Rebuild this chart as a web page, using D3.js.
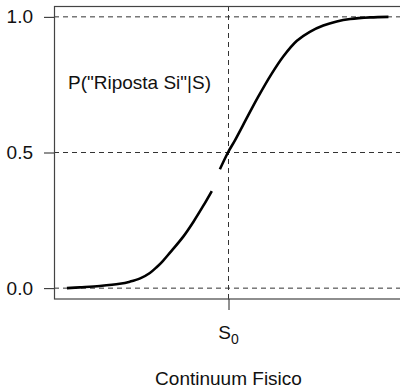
<!DOCTYPE html>
<html>
<head>
<meta charset="utf-8">
<script src="https://cdn.jsdelivr.net/npm/d3@7"></script>
<style>
  body { margin: 0; background: #fff; }
  svg { display: block; font-family: "Liberation Sans", Arial, sans-serif; }
</style>
</head>
<body>
<svg width="400" height="392"></svg>
<script>
// punti (stimolo relativo a S0, probabilita' di risposta "Si")
var stimolo = [-3.0, -2.76, -2.39, -2.02, -1.83, -1.64, -1.46, -1.33, -1.22, -1.09, -0.84, -0.65, -0.47, -0.31,
               -0.23,
               -0.16, -0.01, 0.12, 0.36, 0.55, 0.80, 1.02, 1.27, 1.51, 1.76, 2.01, 2.26, 2.63, 2.97];
var probSi = [0.000, 0.003, 0.008, 0.016, 0.024, 0.036, 0.056, 0.078, 0.100, 0.130, 0.190, 0.245, 0.303, 0.358,
              null,
              0.438, 0.500, 0.545, 0.635, 0.705, 0.790, 0.855, 0.912, 0.945, 0.968, 0.983, 0.992, 0.998, 1.000];
var yTicks = [0, 0.5, 1];
var rifLinee = [0, 0.5, 1];
var xTicks = [0];

var svg = d3.select("svg"),
  margin = { top: 6, right: -3, bottom: 93, left: 54 },
  width = +svg.attr("width") - margin.left - margin.right,
  height = +svg.attr("height") - margin.top - margin.bottom;

var data = stimolo.map(function(d, i) { return { x: d, y: probSi[i] }; });

// come in R: 4% in piu' da ogni lato
var x = d3.scaleLinear().domain([-3.24, 3.24]).range([0, width]),
  y = d3.scaleLinear().domain([-0.04, 1.04]).range([height, 0]);

var g = svg.append("g").attr("transform", "translate(" + margin.left + "," + margin.top + ")");

// linee tratteggiate di riferimento
g.selectAll(".hline").data(rifLinee).enter().append("line")
  .attr("x1", 0).attr("x2", width)
  .attr("y1", function(d) { return y(d); }).attr("y2", function(d) { return y(d); })
  .attr("stroke", "#333").attr("stroke-width", 1).attr("stroke-dasharray", "5,4");

g.selectAll(".vline").data(xTicks).enter().append("line")
  .attr("x1", function(d) { return x(d); }).attr("x2", function(d) { return x(d); })
  .attr("y1", 0).attr("y2", height)
  .attr("stroke", "#333").attr("stroke-width", 1).attr("stroke-dasharray", "5,4");

// cornice (il lato destro cade fuori)
g.append("rect").attr("x", 0.5).attr("y", 0.5).attr("width", width).attr("height", height - 0.5)
  .attr("fill", "none").attr("stroke", "#444").attr("stroke-width", 1.2);

// curva
var line = d3.line()
  .defined(function(d) { return d.y !== null; })
  .x(function(d) { return x(d.x); })
  .y(function(d) { return y(d.y); })
  .curve(d3.curveCatmullRom);

g.append("path").datum(data)
  .attr("fill", "none").attr("stroke", "#000").attr("stroke-width", 2.6)
  .attr("stroke-linejoin", "round").attr("d", line);

// asse y
var ay = g.append("g").call(d3.axisLeft(y).tickValues(yTicks).tickFormat(d3.format(".1f")).tickSize(10).tickPadding(11));
ay.select(".domain").remove();
ay.selectAll("line").attr("stroke", "#222");
ay.selectAll("text").attr("font-size", "19px").attr("font-family", "Liberation Sans, Arial, sans-serif").attr("fill", "#111");

// asse x
var ax = g.append("g").attr("transform", "translate(0," + height + ")")
  .call(d3.axisBottom(x).tickValues(xTicks).tickFormat("").tickSize(11));
ax.select(".domain").remove();
ax.selectAll("line").attr("stroke", "#222");

var lab = g.append("text").attr("x", x(0)).attr("y", 339 - margin.top)
  .attr("text-anchor", "middle").attr("font-size", "19px").attr("fill", "#111");
lab.append("tspan").text("S");
lab.append("tspan").attr("font-size", "14px").attr("dy", 5).text("0");

svg.append("text").attr("x", margin.left + x(0)).attr("y", 385)
  .attr("text-anchor", "middle").attr("font-size", "19px").attr("fill", "#111")
  .text("Continuum Fisico");

g.append("text").attr("x", 68 - margin.left).attr("y", 89 - margin.top)
  .attr("font-size", "19px").attr("fill", "#111")
  .text("P(\"Riposta Si\"|S)");
</script>
</body>
</html>
